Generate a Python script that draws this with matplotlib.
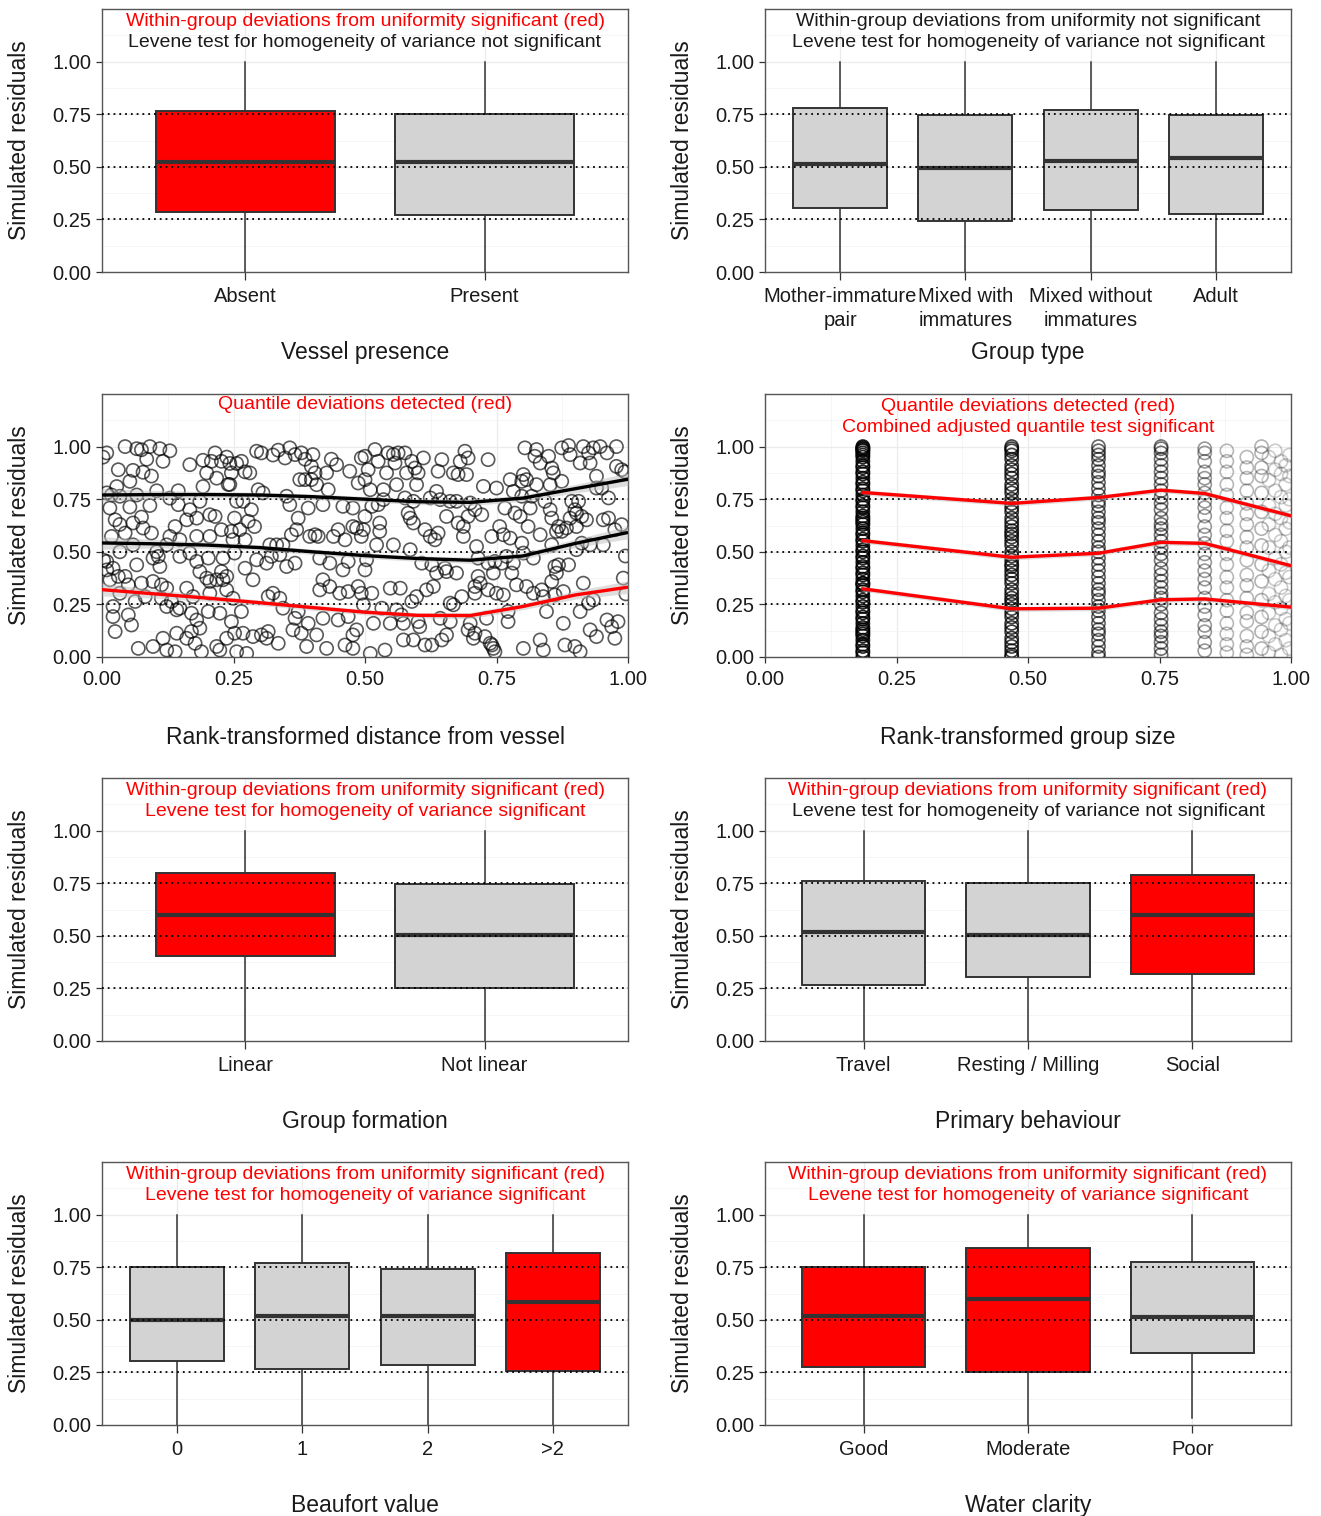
"""Residual diagnostic panels (simulated residuals vs predictors)."""

import matplotlib

matplotlib.use("Agg")

import matplotlib.pyplot as plt
import numpy as np
from matplotlib.ticker import MultipleLocator

plt.rcParams["font.family"] = ["Liberation Sans", "DejaVu Sans"]

RED = "#FF0000"
GREY = "#D3D3D3"
DARK = "#333333"

# ---- categorical panels: (q1, median, q3, whisker low, whisker high) ----
vessel_labels = ["Absent", "Present"]
vessel_q1 = [0.283, 0.272]
vessel_med = [0.522, 0.522]
vessel_q3 = [0.763, 0.750]
vessel_lo = [0.0, 0.0]
vessel_hi = [1.0, 1.0]
vessel_sig = [True, False]

group_labels = ["Mother-immature\npair", "Mixed with\nimmatures", "Mixed without\nimmatures", "Adult"]
group_q1 = [0.303, 0.243, 0.295, 0.275]
group_med = [0.514, 0.494, 0.529, 0.541]
group_q3 = [0.779, 0.746, 0.768, 0.746]
group_lo = [0.0, 0.0, 0.0, 0.0]
group_hi = [1.0, 1.0, 1.0, 1.0]
group_sig = [False, False, False, False]

formation_labels = ["Linear", "Not linear"]
formation_q1 = [0.402, 0.252]
formation_med = [0.598, 0.505]
formation_q3 = [0.800, 0.748]
formation_lo = [0.0, 0.0]
formation_hi = [1.0, 1.0]
formation_sig = [True, False]

behaviour_labels = ["Travel", "Resting / Milling", "Social"]
behaviour_q1 = [0.265, 0.306, 0.320]
behaviour_med = [0.516, 0.505, 0.597]
behaviour_q3 = [0.759, 0.751, 0.787]
behaviour_lo = [0.0, 0.0, 0.0]
behaviour_hi = [1.0, 1.0, 1.0]
behaviour_sig = [False, False, True]

beaufort_labels = ["0", "1", "2", ">2"]
beaufort_q1 = [0.302, 0.265, 0.286, 0.257]
beaufort_med = [0.497, 0.519, 0.519, 0.583]
beaufort_q3 = [0.752, 0.770, 0.740, 0.817]
beaufort_lo = [0.0, 0.0, 0.0, 0.0]
beaufort_hi = [1.0, 1.0, 1.0, 1.0]
beaufort_sig = [False, False, False, True]

clarity_labels = ["Good", "Moderate", "Poor"]
clarity_q1 = [0.278, 0.254, 0.341]
clarity_med = [0.519, 0.598, 0.513]
clarity_q3 = [0.749, 0.841, 0.775]
clarity_lo = [0.0, 0.0, 0.032]
clarity_hi = [1.0, 1.0, 1.0]
clarity_sig = [True, True, False]

# ---- rank-transformed distance from vessel: residual scatter ----
distance_points = [
    (0.009, 0.97), (0.044, 1.00), (0.066, 0.99), (0.075, 0.985), (0.091, 1.00), (0.110, 0.99),
    (0.129, 0.98), (0.085, 0.94), (0.116, 0.93), (0.031, 0.89), (0.059, 0.887), (0.078, 0.878),
    (0.094, 0.86), (0.053, 0.835), (0.167, 0.914), (0.215, 0.97), (0.237, 0.95), (0.192, 0.935),
    (0.208, 0.93), (0.227, 0.93), (0.243, 0.92), (0.199, 0.875), (0.218, 0.85), (0.240, 0.82),
    (0.192, 0.81), (0.145, 0.79), (0.104, 0.79), (0.028, 0.81), (0.009, 0.78), (0.018, 0.77),
    (0.034, 0.764), (0.066, 0.77), (0.091, 0.72), (0.129, 0.755), (0.145, 0.724), (0.167, 0.70),
    (0.186, 0.74), (0.205, 0.676), (0.215, 0.668), (0.180, 0.66), (0.161, 0.652), (0.139, 0.62),
    (0.015, 0.708), (0.053, 0.713), (0.075, 0.665), (0.025, 0.652), (0.034, 0.63), (0.059, 0.637),
    (0.078, 0.613), (0.094, 0.589), (0.044, 0.589), (0.018, 0.573), (0.129, 0.573), (0.148, 0.557),
    (0.180, 0.573), (0.205, 0.573), (0.227, 0.605), (0.246, 0.597), (0.034, 0.50), (0.059, 0.533),
    (0.104, 0.50), (0.123, 0.533), (0.107, 0.478), (0.097, 0.47), (0.110, 0.43), (0.148, 0.478),
    (0.167, 0.494), (0.180, 0.454), (0.202, 0.47), (0.230, 0.47), (0.009, 0.454), (0.009, 0.414),
    (0.021, 0.422), (0.031, 0.383), (0.044, 0.383), (0.066, 0.438), (0.015, 0.367), (0.050, 0.343),
    (0.075, 0.351), (0.097, 0.359), (0.113, 0.343), (0.123, 0.327), (0.161, 0.327), (0.186, 0.406),
    (0.205, 0.359), (0.218, 0.367), (0.230, 0.367), (0.237, 0.383), (0.227, 0.406), (0.199, 0.375),
    (0.034, 0.303), (0.082, 0.287), (0.113, 0.279), (0.132, 0.264), (0.142, 0.224), (0.148, 0.232),
    (0.123, 0.24), (0.173, 0.287), (0.205, 0.303), (0.237, 0.319), (0.021, 0.24), (0.063, 0.264),
    (0.050, 0.20), (0.021, 0.192), (0.056, 0.152), (0.170, 0.208), (0.180, 0.176), (0.202, 0.216),
    (0.224, 0.208), (0.186, 0.137), (0.170, 0.121), (0.142, 0.113), (0.161, 0.089), (0.025, 0.121),
    (0.116, 0.089), (0.097, 0.05), (0.069, 0.041), (0.123, 0.033), (0.139, 0.025), (0.177, 0.065),
    (0.218, 0.05), (0.237, 0.089), (0.224, 0.033), (0.189, 0.025), (0.002, 0.95), (0.003, 0.46),
    (0.256, 0.92), (0.265, 0.93), (0.272, 0.88), (0.281, 0.875), (0.294, 0.978), (0.303, 0.97),
    (0.325, 0.96), (0.335, 0.983), (0.348, 0.946), (0.357, 0.994), (0.367, 0.962), (0.379, 0.97),
    (0.386, 0.94), (0.401, 0.962), (0.398, 0.906), (0.405, 0.875), (0.376, 0.843), (0.386, 0.843),
    (0.398, 0.843), (0.408, 0.819), (0.427, 0.875), (0.436, 0.94), (0.446, 0.914), (0.471, 0.883),
    (0.493, 0.946), (0.487, 0.827), (0.243, 0.82), (0.246, 0.875), (0.297, 0.795), (0.306, 0.78),
    (0.351, 0.764), (0.357, 0.724), (0.392, 0.708), (0.420, 0.724), (0.430, 0.795), (0.458, 0.716),
    (0.477, 0.708), (0.256, 0.74), (0.268, 0.74), (0.284, 0.70), (0.252, 0.66), (0.262, 0.605),
    (0.278, 0.645), (0.290, 0.62), (0.272, 0.557), (0.249, 0.557), (0.319, 0.533), (0.332, 0.533),
    (0.344, 0.533), (0.360, 0.581), (0.370, 0.605), (0.373, 0.66), (0.395, 0.573), (0.405, 0.581),
    (0.411, 0.573), (0.440, 0.573), (0.449, 0.605), (0.462, 0.557), (0.477, 0.62), (0.484, 0.613),
    (0.493, 0.573), (0.252, 0.494), (0.272, 0.422), (0.287, 0.367), (0.294, 0.462), (0.313, 0.446),
    (0.322, 0.478), (0.338, 0.486), (0.351, 0.43), (0.367, 0.446), (0.414, 0.47), (0.433, 0.446),
    (0.458, 0.414), (0.468, 0.454), (0.420, 0.367), (0.433, 0.335), (0.414, 0.319), (0.452, 0.303),
    (0.468, 0.311), (0.487, 0.335), (0.493, 0.303), (0.325, 0.303), (0.338, 0.279), (0.344, 0.232),
    (0.316, 0.287), (0.249, 0.279), (0.265, 0.216), (0.373, 0.216), (0.367, 0.184), (0.392, 0.16),
    (0.420, 0.184), (0.449, 0.176), (0.468, 0.192), (0.484, 0.129), (0.477, 0.105), (0.246, 0.168),
    (0.252, 0.113), (0.268, 0.113), (0.287, 0.097), (0.303, 0.105), (0.313, 0.089), (0.335, 0.065),
    (0.316, 0.121), (0.363, 0.129), (0.379, 0.113), (0.389, 0.05), (0.408, 0.105), (0.427, 0.041),
    (0.462, 0.057), (0.477, 0.041), (0.256, 0.025), (0.275, 0.017),
    (0.500, 0.954), (0.519, 0.986), (0.506, 0.89), (0.525, 0.93), (0.544, 0.97), (0.554, 0.962),
    (0.563, 0.97), (0.557, 0.922), (0.576, 0.97), (0.589, 0.93), (0.595, 0.898), (0.611, 0.946),
    (0.541, 0.875), (0.579, 0.875), (0.601, 0.875), (0.639, 0.883), (0.646, 0.938), (0.681, 0.93),
    (0.690, 0.978), (0.696, 0.946), (0.668, 0.875), (0.677, 0.867), (0.693, 0.867), (0.734, 0.938),
    (0.725, 0.811), (0.500, 0.843), (0.510, 0.795), (0.535, 0.795), (0.560, 0.819), (0.598, 0.819),
    (0.636, 0.787), (0.513, 0.716), (0.525, 0.724), (0.535, 0.748), (0.576, 0.756), (0.592, 0.74),
    (0.624, 0.756), (0.643, 0.748), (0.662, 0.74), (0.674, 0.74), (0.700, 0.732), (0.709, 0.70),
    (0.500, 0.668), (0.528, 0.637), (0.528, 0.597), (0.582, 0.684), (0.586, 0.66), (0.592, 0.637),
    (0.614, 0.605), (0.624, 0.573), (0.633, 0.557), (0.639, 0.589), (0.655, 0.668), (0.677, 0.637),
    (0.687, 0.62), (0.696, 0.668), (0.722, 0.676), (0.687, 0.573), (0.497, 0.605), (0.522, 0.533),
    (0.554, 0.533), (0.586, 0.51), (0.503, 0.462), (0.500, 0.414), (0.608, 0.446), (0.627, 0.438),
    (0.636, 0.399), (0.652, 0.422), (0.655, 0.406), (0.674, 0.399), (0.712, 0.525), (0.715, 0.47),
    (0.734, 0.446), (0.715, 0.383), (0.709, 0.335), (0.719, 0.351), (0.734, 0.319), (0.548, 0.327),
    (0.567, 0.327), (0.617, 0.319), (0.630, 0.335), (0.598, 0.287), (0.513, 0.303), (0.497, 0.248),
    (0.532, 0.232), (0.560, 0.224), (0.569, 0.200), (0.589, 0.264), (0.662, 0.256), (0.668, 0.248),
    (0.684, 0.287), (0.709, 0.303), (0.516, 0.160), (0.548, 0.160), (0.573, 0.160), (0.601, 0.168),
    (0.604, 0.144), (0.643, 0.184), (0.662, 0.168), (0.700, 0.160), (0.731, 0.184), (0.696, 0.129),
    (0.709, 0.113), (0.706, 0.089), (0.728, 0.097), (0.738, 0.065), (0.744, 0.041), (0.573, 0.081),
    (0.592, 0.081), (0.614, 0.057), (0.627, 0.057), (0.646, 0.081), (0.655, 0.105), (0.538, 0.033),
    (0.510, 0.017),
    (0.804, 0.994), (0.826, 0.986), (0.823, 0.954), (0.849, 0.954), (0.833, 0.922), (0.855, 0.898),
    (0.858, 0.875), (0.874, 0.994), (0.887, 1.005), (0.890, 0.962), (0.915, 1.00), (0.925, 0.97),
    (0.934, 0.994), (0.947, 1.00), (0.960, 0.97), (0.978, 1.00), (0.909, 0.922), (0.928, 0.922),
    (0.874, 0.835), (0.852, 0.819), (0.826, 0.819), (0.801, 0.867), (0.807, 0.843), (0.798, 0.835),
    (0.776, 0.843), (0.750, 0.803), (0.782, 0.787), (0.798, 0.764), (0.817, 0.764), (0.940, 0.859),
    (0.940, 0.803), (0.950, 0.803), (0.978, 0.906), (0.988, 0.89), (0.963, 0.756), (0.893, 0.74),
    (0.906, 0.74), (0.899, 0.70), (0.902, 0.684), (0.890, 0.66), (0.912, 0.668), (0.766, 0.708),
    (0.785, 0.684), (0.795, 0.668), (0.814, 0.708), (0.842, 0.74), (0.852, 0.70), (0.855, 0.66),
    (0.868, 0.62), (0.864, 0.597), (0.874, 0.597), (0.883, 0.613), (0.902, 0.62), (0.921, 0.652),
    (0.953, 0.652), (0.963, 0.66), (0.975, 0.605), (0.988, 0.629), (0.741, 0.573), (0.756, 0.62),
    (0.763, 0.581), (0.776, 0.565), (0.798, 0.541), (0.810, 0.62), (0.833, 0.581), (0.855, 0.533),
    (0.902, 0.51), (0.912, 0.541), (0.928, 0.533), (0.953, 0.533), (0.747, 0.454), (0.760, 0.446),
    (0.769, 0.478), (0.782, 0.446), (0.801, 0.494), (0.820, 0.47), (0.744, 0.399), (0.779, 0.399),
    (0.861, 0.43), (0.868, 0.438), (0.887, 0.438), (0.864, 0.399), (0.991, 0.375), (0.750, 0.303),
    (0.763, 0.295), (0.788, 0.343), (0.807, 0.335), (0.820, 0.303), (0.836, 0.319), (0.855, 0.359),
    (0.839, 0.287), (0.861, 0.295), (0.877, 0.311), (0.915, 0.351), (0.934, 0.271), (0.925, 0.256),
    (0.909, 0.216), (0.772, 0.216), (0.845, 0.216), (0.772, 0.168), (0.877, 0.160), (0.960, 0.176),
    (0.981, 0.168), (0.969, 0.144), (0.928, 0.129), (0.940, 0.097), (0.975, 0.089), (0.833, 0.081),
    (0.801, 0.041), (0.839, 0.033), (0.880, 0.057), (0.899, 0.05), (0.909, 0.025), (0.741, 0.057),
    (0.747, 0.025), (0.995, 0.48), (0.996, 0.30), (0.994, 0.88),
]

# quantile regression fits for the distance panel
dist_fit_x = [0.0, 0.1, 0.2, 0.3, 0.4, 0.5, 0.6, 0.7, 0.8, 0.9, 1.0]
dist_fit_q75 = [0.770, 0.772, 0.772, 0.770, 0.762, 0.750, 0.738, 0.735, 0.755, 0.800, 0.845]
dist_fit_q50 = [0.542, 0.538, 0.532, 0.520, 0.500, 0.482, 0.468, 0.460, 0.480, 0.540, 0.592]
dist_fit_q25 = [0.320, 0.300, 0.280, 0.258, 0.235, 0.213, 0.198, 0.197, 0.240, 0.295, 0.332]
dist_fit_se = [0.030, 0.020, 0.015, 0.013, 0.013, 0.013, 0.013, 0.015, 0.015, 0.020, 0.030]
dist_fit_sig = [False, False, True]  # q75, q50, q25 -> red if deviating

# ---- rank-transformed group size: residuals stacked at tied ranks ----
size_ranks = [0.186, 0.469, 0.634, 0.753, 0.836, 0.878, 0.916, 0.944, 0.958, 0.970, 0.981, 0.990, 0.997]
size_residuals = [
    [0.00, 0.02, 0.03, 0.05, 0.06, 0.08, 0.10, 0.11, 0.13, 0.14, 0.16, 0.18, 0.19, 0.21, 0.22, 0.24,
     0.26, 0.27, 0.29, 0.31, 0.32, 0.34, 0.35, 0.37, 0.39, 0.40, 0.42, 0.43, 0.45, 0.47, 0.48, 0.50,
     0.51, 0.53, 0.55, 0.56, 0.58, 0.59, 0.61, 0.63, 0.64, 0.66, 0.67, 0.69, 0.71, 0.72, 0.74, 0.75,
     0.77, 0.79, 0.80, 0.82, 0.83, 0.85, 0.87, 0.88, 0.90, 0.91, 0.93, 0.95, 0.96, 0.98, 0.99, 1.00,
     0.97, 0.985, 0.995, 0.65, 0.35, 0.12],
    [0.00, 0.01, 0.03, 0.05, 0.07, 0.09, 0.12, 0.14, 0.16, 0.19, 0.21, 0.23, 0.25, 0.28, 0.30, 0.32,
     0.35, 0.37, 0.39, 0.41, 0.44, 0.46, 0.48, 0.50, 0.53, 0.55, 0.57, 0.60, 0.62, 0.64, 0.66, 0.69,
     0.71, 0.73, 0.75, 0.78, 0.80, 0.82, 0.85, 0.87, 0.89, 0.91, 0.94, 0.96, 0.98, 0.99, 1.00, 0.585,
     0.43, 0.265],
    [0.00, 0.02, 0.05, 0.08, 0.11, 0.13, 0.16, 0.19, 0.22, 0.24, 0.27, 0.30, 0.32, 0.35, 0.38, 0.41,
     0.44, 0.47, 0.50, 0.52, 0.55, 0.58, 0.61, 0.64, 0.66, 0.69, 0.72, 0.74, 0.77, 0.80, 0.83, 0.86,
     0.88, 0.91, 0.94, 0.96, 0.98, 1.00],
    [0.01, 0.04, 0.07, 0.10, 0.12, 0.15, 0.18, 0.21, 0.25, 0.28, 0.30, 0.33, 0.36, 0.39, 0.42, 0.46,
     0.49, 0.52, 0.55, 0.58, 0.61, 0.63, 0.66, 0.70, 0.73, 0.76, 0.79, 0.82, 0.85, 0.88, 0.91, 0.94,
     0.97, 0.99, 1.00],
    [0.03, 0.07, 0.12, 0.15, 0.20, 0.24, 0.28, 0.33, 0.37, 0.41, 0.45, 0.49, 0.54, 0.58, 0.62, 0.67,
     0.71, 0.74, 0.78, 0.82, 0.85, 0.88, 0.93, 0.97, 0.99],
    [0.02, 0.06, 0.11, 0.16, 0.22, 0.27, 0.33, 0.38, 0.44, 0.49, 0.55, 0.60, 0.66, 0.71, 0.77, 0.82,
     0.88, 0.93, 0.98],
    [0.01, 0.05, 0.10, 0.17, 0.21, 0.28, 0.34, 0.39, 0.46, 0.52, 0.57, 0.63, 0.68, 0.73, 0.79, 0.85,
     0.90, 0.95],
    [0.04, 0.12, 0.19, 0.27, 0.36, 0.44, 0.53, 0.61, 0.69, 0.78, 0.86, 0.90, 0.97, 1.00],
    [0.02, 0.10, 0.21, 0.30, 0.41, 0.52, 0.63, 0.72, 0.84, 0.95],
    [0.06, 0.15, 0.26, 0.37, 0.47, 0.58, 0.68, 0.79, 0.89, 0.98],
    [0.01, 0.13, 0.23, 0.33, 0.44, 0.55, 0.66, 0.76, 0.87, 0.93],
    [0.08, 0.18, 0.29, 0.40, 0.50, 0.61, 0.72, 0.82, 0.91],
    [0.04, 0.16, 0.27, 0.38, 0.52, 0.64, 0.75, 0.86, 0.96],
]
size_fit_x = [0.186, 0.469, 0.634, 0.753, 0.836, 1.0]
size_fit_q75 = [0.782, 0.730, 0.758, 0.793, 0.777, 0.671]
size_fit_q50 = [0.553, 0.474, 0.493, 0.545, 0.540, 0.434]
size_fit_q25 = [0.324, 0.229, 0.232, 0.272, 0.276, 0.237]

WITHIN_SIG = "Within-group deviations from uniformity significant (red)"
WITHIN_NS = "Within-group deviations from uniformity not significant"
LEVENE_SIG = "Levene test for homogeneity of variance significant"
LEVENE_NS = "Levene test for homogeneity of variance not significant"

TICK_SIZE = 14.5
LABEL_SIZE = 16.5
NOTE_SIZE = 14


def style_axes(ax, xlabel, continuous):
    ax.set_ylim(0, 1.25)
    ax.set_yticks([0, 0.25, 0.5, 0.75, 1.0])
    ax.set_yticklabels(["0.00", "0.25", "0.50", "0.75", "1.00"])
    ax.yaxis.set_minor_locator(MultipleLocator(0.125))
    if continuous:
        ax.set_xlim(0, 1)
        ax.set_xticks([0, 0.25, 0.5, 0.75, 1.0])
        ax.set_xticklabels(["0.00", "0.25", "0.50", "0.75", "1.00"])
        ax.xaxis.set_minor_locator(MultipleLocator(0.125))
    ax.set_axisbelow(True)
    ax.grid(True, which="major", color="#EBEBEB", linewidth=0.9)
    ax.grid(True, which="minor", color="#F4F4F4", linewidth=0.6)
    ax.tick_params(axis="both", which="major", length=4.5, width=0.9, color=DARK,
                   labelsize=TICK_SIZE, labelcolor="#1A1A1A", pad=3)
    ax.tick_params(axis="x", which="major", pad=5)
    ax.tick_params(axis="both", which="minor", length=0)
    for spine in ax.spines.values():
        spine.set_color("#555555")
        spine.set_linewidth(1.0)
    for level in (0.25, 0.5, 0.75):
        ax.axhline(level, color="black", linestyle=(0, (1, 2.2)), linewidth=1.3, zorder=4)
    ax.set_xlabel(xlabel, fontsize=LABEL_SIZE, color="#1A1A1A")
    ax.xaxis.set_label_coords(0.5, -0.262)
    ax.set_ylabel("Simulated residuals", fontsize=LABEL_SIZE, color="#1A1A1A")
    ax.yaxis.set_label_coords(-0.135, 0.5)


def notes(ax, lines):
    ys = [1.19, 1.09]
    for (text, red), y in zip(lines, ys):
        ax.text(0.5, y, text, transform=ax.get_yaxis_transform(), ha="center", va="center",
                fontsize=NOTE_SIZE, color=RED if red else "#1A1A1A", zorder=6)


def box_panel(ax, labels, q1, med, q3, lo, hi, sig, xlabel, lines):
    stats = []
    for i in range(len(labels)):
        stats.append({"med": med[i], "q1": q1[i], "q3": q3[i], "whislo": lo[i], "whishi": hi[i]})
    pos = np.arange(1, len(labels) + 1)
    parts = ax.bxp(stats, positions=pos, widths=0.75, patch_artist=True, showcaps=False,
                   showfliers=False, manage_ticks=False,
                   boxprops={"edgecolor": DARK, "linewidth": 1.4},
                   medianprops={"color": DARK, "linewidth": 3.0},
                   whiskerprops={"color": DARK, "linewidth": 1.1})
    for patch, flag in zip(parts["boxes"], sig):
        patch.set_facecolor(RED if flag else GREY)
        patch.set_zorder(2)
    for line in parts["medians"]:
        line.set_zorder(3)
    ax.set_xlim(0.4, len(labels) + 0.6)
    ax.set_xticks(pos)
    ax.set_xticklabels(labels, linespacing=1.3)
    style_axes(ax, xlabel, continuous=False)
    ax.tick_params(axis="x", length=6)
    notes(ax, lines)


def distance_panel(ax):
    xs = [p[0] for p in distance_points]
    ys = [p[1] for p in distance_points]
    ax.scatter(xs, ys, s=90, facecolors="none", edgecolors=(0, 0, 0, 0.65), linewidths=1.2, zorder=3)
    fx = np.array(dist_fit_x)
    se = np.array(dist_fit_se)
    for q, flag in zip((dist_fit_q75, dist_fit_q50, dist_fit_q25), dist_fit_sig):
        q = np.array(q)
        ax.fill_between(fx, q - se, q + se, color="#BEBEBE", alpha=0.5, linewidth=0, zorder=5)
        ax.plot(fx, q, color=RED if flag else "black", linewidth=2.4, zorder=6,
                solid_capstyle="butt")
    style_axes(ax, "Rank-transformed distance from vessel", continuous=True)
    ax.text(0.5, 1.2, "Quantile deviations detected (red)", ha="center", va="center",
            fontsize=NOTE_SIZE, color=RED, zorder=7)


def size_panel(ax):
    alphas = [0.85, 0.75, 0.6, 0.55, 0.4, 0.28, 0.28, 0.3, 0.2, 0.2, 0.2, 0.2, 0.2]
    for x, col, a in zip(size_ranks, size_residuals, alphas):
        ax.scatter([x] * len(col), col, s=90, facecolors="none", edgecolors=(0, 0, 0, a),
                   linewidths=1.2, zorder=3)
    fx = np.array(size_fit_x)
    for q in (size_fit_q75, size_fit_q50, size_fit_q25):
        q = np.array(q)
        ax.fill_between(fx, q - 0.012, q + 0.012, color="#BEBEBE", alpha=0.5, linewidth=0, zorder=5)
        ax.plot(fx, q, color=RED, linewidth=2.4, zorder=6)
    style_axes(ax, "Rank-transformed group size", continuous=True)
    notes(ax, [("Quantile deviations detected (red)", True),
               ("Combined adjusted quantile test significant", True)])


fig = plt.figure(figsize=(13.21, 15.16), dpi=100)
W, H = 1321.0, 1516.0
lefts = [102, 765]
tops = [9, 394, 778, 1162]
axw, axh = 526, 263
axes = []
for top in tops:
    row = []
    for left in lefts:
        row.append(fig.add_axes([left / W, 1 - (top + axh) / H, axw / W, axh / H]))
    axes.append(row)

box_panel(axes[0][0], vessel_labels, vessel_q1, vessel_med, vessel_q3, vessel_lo, vessel_hi,
          vessel_sig, "Vessel presence", [(WITHIN_SIG, True), (LEVENE_NS, False)])
box_panel(axes[0][1], group_labels, group_q1, group_med, group_q3, group_lo, group_hi,
          group_sig, "Group type", [(WITHIN_NS, False), (LEVENE_NS, False)])
distance_panel(axes[1][0])
size_panel(axes[1][1])
box_panel(axes[2][0], formation_labels, formation_q1, formation_med, formation_q3, formation_lo,
          formation_hi, formation_sig, "Group formation", [(WITHIN_SIG, True), (LEVENE_SIG, True)])
box_panel(axes[2][1], behaviour_labels, behaviour_q1, behaviour_med, behaviour_q3, behaviour_lo,
          behaviour_hi, behaviour_sig, "Primary behaviour", [(WITHIN_SIG, True), (LEVENE_NS, False)])
box_panel(axes[3][0], beaufort_labels, beaufort_q1, beaufort_med, beaufort_q3, beaufort_lo,
          beaufort_hi, beaufort_sig, "Beaufort value", [(WITHIN_SIG, True), (LEVENE_SIG, True)])
box_panel(axes[3][1], clarity_labels, clarity_q1, clarity_med, clarity_q3, clarity_lo, clarity_hi,
          clarity_sig, "Water clarity", [(WITHIN_SIG, True), (LEVENE_SIG, True)])

fig.savefig("out.png", dpi=100, facecolor="white")
